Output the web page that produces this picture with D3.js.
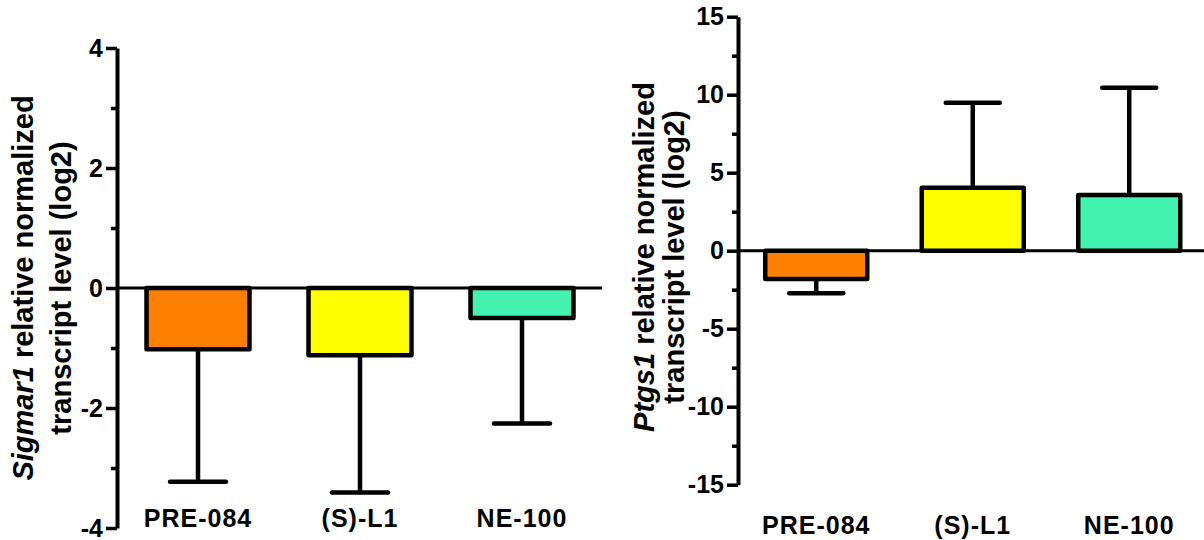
<!DOCTYPE html>
<html>
<head>
<meta charset="utf-8">
<script src="https://cdn.jsdelivr.net/npm/d3@7"></script>
<style>
  html, body { margin: 0; padding: 0; background: #fff; }
  svg { display: block; font-family: "Liberation Sans", Arial, Helvetica, sans-serif; font-weight: bold; }
</style>
</head>
<body>
<svg id="chart" width="1204" height="540"></svg>
<script>
// Treatments shown on both panels
const categories = ["PRE-084", "(S)-L1", "NE-100"];
const barColors = ["#FF8000", "#FFFF00", "#43F1B0"];

// Sigmar1: mean log2 relative normalized expression and error (SD)
const sigmarMean = [-1.02, -1.12, -0.50];
const sigmarErr = [2.21, 2.29, 1.76];
const sigmarMajorTicks = [-4, -2, 0, 2, 4];
const sigmarMinorTicks = [-3, -1, 1, 3];

// Ptgs1: mean log2 relative normalized expression and error (SD)
const ptgsMean = [-1.81, 4.04, 3.57];
const ptgsErr = [0.92, 5.45, 6.88];
const ptgsMajorTicks = [-15, -10, -5, 0, 5, 10, 15];
const ptgsMinorTicks = [-12.5, -7.5, -2.5, 2.5, 7.5, 12.5];

const svg = d3.select("#chart");

function panel(opts) {
  const g = svg.append("g");
  const y = d3.scaleLinear().domain(opts.domain).range(opts.yRange);
  const x = d3.scalePoint().domain(categories).range([opts.axisX, opts.xEnd]).padding(0.5);
  const data = categories.map((c, i) => ({ c, mean: opts.mean[i], err: opts.err[i], color: barColors[i] }));

  // zero baseline
  g.append("line")
    .attr("x1", opts.axisX).attr("x2", opts.zeroEnd)
    .attr("y1", y(0)).attr("y2", y(0))
    .attr("stroke", "#000").attr("stroke-width", 3);

  // error bars (drawn away from zero, beyond the bar end)
  const eb = g.append("g").selectAll("g").data(data).join("g");
  eb.append("line")
    .attr("x1", d => x(d.c)).attr("x2", d => x(d.c))
    .attr("y1", d => y(d.mean))
    .attr("y2", d => y(d.mean + Math.sign(d.mean) * d.err))
    .attr("stroke", "#000").attr("stroke-width", 4.5);
  eb.append("line")
    .attr("x1", d => x(d.c) - opts.capW / 2).attr("x2", d => x(d.c) + opts.capW / 2)
    .attr("y1", d => y(d.mean + Math.sign(d.mean) * d.err))
    .attr("y2", d => y(d.mean + Math.sign(d.mean) * d.err))
    .attr("stroke", "#000").attr("stroke-width", 4.5).attr("stroke-linecap", "round");

  // bars
  g.append("g").selectAll("rect").data(data).join("rect")
    .attr("x", d => x(d.c) - opts.barW / 2)
    .attr("width", opts.barW)
    .attr("y", d => Math.min(y(d.mean), y(0)))
    .attr("height", d => Math.abs(y(d.mean) - y(0)))
    .attr("fill", d => d.color)
    .attr("stroke", "#000").attr("stroke-width", 4.5)
    .attr("stroke-linejoin", "round");

  // minor ticks
  const minor = g.append("g").attr("transform", `translate(${opts.axisX},0)`)
    .call(d3.axisLeft(y).tickValues(opts.minor).tickSize(6).tickSizeOuter(0).tickFormat(""));
  minor.select(".domain").remove();
  minor.selectAll(".tick line").attr("stroke", "#000").attr("stroke-width", 3.5);

  // major ticks + labels + spine
  const major = g.append("g").attr("transform", `translate(${opts.axisX},0)`)
    .call(d3.axisLeft(y).tickValues(opts.major).tickSize(11).tickSizeOuter(0).tickPadding(3)
      .tickFormat(d => String(d)));
  major.select(".domain").attr("stroke", "#000").attr("stroke-width", 4);
  major.selectAll(".tick line").attr("stroke", "#000").attr("stroke-width", 3.5);
  major.selectAll(".tick text")
    .attr("fill", "#000")
    .style("font-size", "25px").style("font-weight", "bold")
    .style("font-family", "'Liberation Sans', Arial, sans-serif");

  // category labels
  g.append("g").selectAll("text").data(data).join("text")
    .attr("x", d => x(d.c)).attr("y", opts.labelY)
    .attr("text-anchor", "middle")
    .style("font-size", "25px").style("letter-spacing", "1px")
    .text(d => d.c);

  // y-axis title (two lines, gene name in italics)
  const t1 = g.append("text")
    .attr("transform", `translate(${opts.titleX1},${opts.titleY}) rotate(-90)`)
    .attr("text-anchor", "middle").style("font-size", "29px");
  t1.append("tspan").style("font-style", "italic").text(opts.gene);
  t1.append("tspan").text(" relative normalized");
  g.append("text")
    .attr("transform", `translate(${opts.titleX2},${opts.titleY}) rotate(-90)`)
    .attr("text-anchor", "middle").style("font-size", "29px")
    .text("transcript level (log2)");
}

panel({
  gene: "Sigmar1",
  mean: sigmarMean, err: sigmarErr,
  domain: [-4, 4], yRange: [528, 48],
  major: sigmarMajorTicks, minor: sigmarMinorTicks,
  axisX: 117, xEnd: 603, zeroEnd: 602,
  barW: 103, capW: 56,
  labelY: 527,
  titleX1: 33, titleX2: 71, titleY: 288
});

panel({
  gene: "Ptgs1",
  mean: ptgsMean, err: ptgsErr,
  domain: [-15, 15], yRange: [484.7, 16.7],
  major: ptgsMajorTicks, minor: ptgsMinorTicks,
  axisX: 738, xEnd: 1207.5, zeroEnd: 1204,
  barW: 102, capW: 54,
  labelY: 534,
  titleX1: 654, titleX2: 684, titleY: 257
});
</script>
</body>
</html>
